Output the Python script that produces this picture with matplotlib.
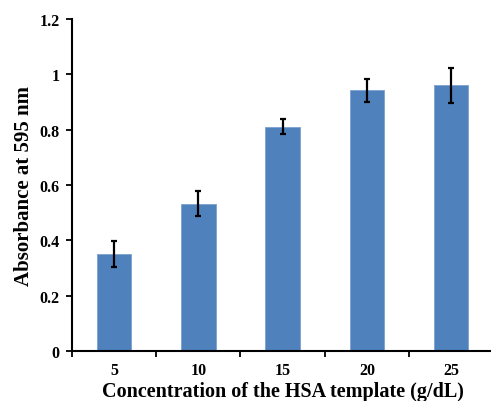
import matplotlib
matplotlib.use("Agg")
import matplotlib.pyplot as plt
import numpy as np

plt.rcParams["font.family"] = "Liberation Serif"
plt.rcParams["font.weight"] = "bold"

conc = ["5", "10", "15", "20", "25"]
absorb = [0.35, 0.532, 0.81, 0.942, 0.960]
err = [0.046, 0.045, 0.027, 0.042, 0.065]

fig = plt.figure(figsize=(4.91, 4.02), dpi=100)
ax = fig.add_axes([0.1466, 0.1244, 0.858, 0.8256])

x = np.arange(len(conc))
ax.bar(x, absorb, width=0.41, color="#4F81BD", edgecolor="#7BA0CF", linewidth=0.6,
       yerr=err, error_kw=dict(ecolor="black", elinewidth=1.6, capsize=2.5, capthick=1.6))

ax.set_xlim(-0.5, 4.5)
ax.set_ylim(0, 1.2)
ax.set_yticks([0, 0.2, 0.4, 0.6, 0.8, 1, 1.2])
ax.set_yticklabels(["0", "0.2", "0.4", "0.6", "0.8", "1", "1.2"])
ax.set_xticks(x)
ax.set_xticklabels(conc)
ax.set_xticks(np.arange(-0.5, 5, 1), minor=True)
ax.tick_params(axis="x", which="major", length=0, pad=8, labelsize=11.5)
ax.tick_params(axis="x", which="minor", length=4, width=1.3, direction="out")
ax.tick_params(axis="y", length=4, width=1.3, direction="out", labelsize=11.5, pad=5)

for s in ["top", "right"]:
    ax.spines[s].set_visible(False)
for s in ["left", "bottom"]:
    ax.spines[s].set_linewidth(1.5)

ax.set_xlabel("Concentration of the HSA template (g/dL)", fontsize=14.5, fontweight="bold", labelpad=2)
ax.set_ylabel("Absorbance at 595 nm", fontsize=15, fontweight="bold", labelpad=4)

fig.savefig("out.png", dpi=100)
